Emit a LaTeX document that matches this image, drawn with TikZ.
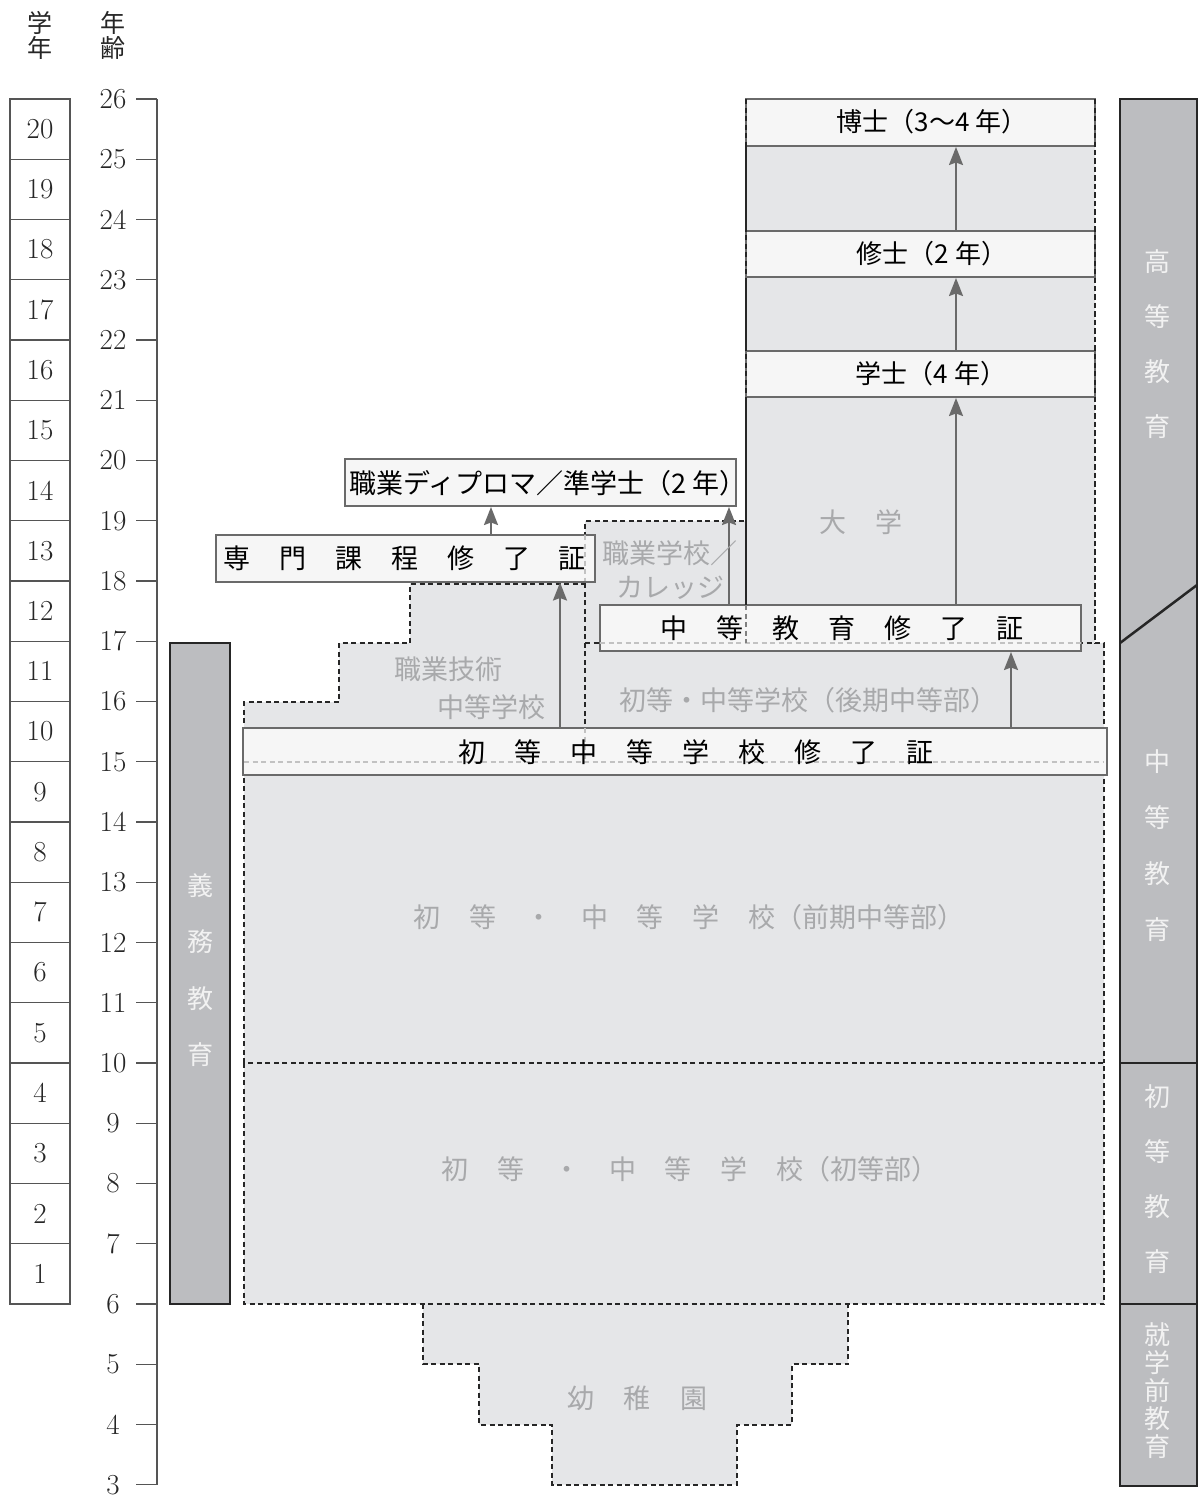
\documentclass[tikz,border=0pt]{standalone}
\usepackage{fontspec}
\newfontfamily\jp{Noto Sans CJK JP}
\usetikzlibrary{arrows.meta}
\definecolor{regionfill}{HTML}{E5E6E8}
\definecolor{boxfill}{HTML}{F6F6F6}
\definecolor{boxline}{HTML}{6A6A6A}
\definecolor{barfill}{HTML}{BCBDC0}
\definecolor{labelgray}{HTML}{A8A9AB}
\definecolor{arrowgray}{HTML}{6A6A6A}
\definecolor{innerdash}{HTML}{C2C2C2}
\definecolor{axisgray}{HTML}{555555}
\newcommand\gp{\hspace{28.9pt}}
\begin{document}
\begin{tikzpicture}[x=1pt,y=-1pt,
  regdash/.style={draw=black!85, line width=2pt, dash pattern=on 5pt off 3.5pt},
  innerd/.style={draw=innerdash, line width=1.6pt, dash pattern=on 5pt off 3.5pt},
  cbox/.style={draw=boxline, fill=boxfill, line width=2pt, inner sep=0pt},
  certtext/.style={inner sep=0pt, font=\jp\fontsize{27}{30}\selectfont, text=black},
  degtext/.style={inner sep=0pt, font=\jp\fontsize{26}{30}\selectfont, text=black},
  regionlabel/.style={inner sep=0pt, font=\jp\fontsize{27}{34}\selectfont, text=labelgray, align=center},
  arr/.style={draw=arrowgray, line width=2pt, -{Stealth[length=18pt,width=14pt,inset=2.5pt]}},
  axisline/.style={draw=axisgray, line width=1.3pt},
  agenum/.style={inner sep=0pt, font=\fontsize{29}{30}\selectfont, text=black!85},
  gradebox/.style={draw=axisgray, line width=1.3pt, minimum width=60pt, minimum height=60.25pt, inner sep=0pt, font=\fontsize{29}{30}\selectfont, text=black!85},
  barlabel/.style={inner sep=0pt, text=white!95!black, align=center},
  header/.style={inner sep=0pt, font=\jp\fontsize{25}{25}\selectfont, align=center, text=black!85}
]
\useasboundingbox (0,0) rectangle (1199,1499);

% headers
\node[header] (hgrade) at (40,35) {学\\年};
\node[header] (hage) at (113,35) {年\\齢};

% grade boxes
\foreach \g in {1,...,20}{
  \pgfmathsetmacro\yc{99+(26-(\g+5.5))*60.25}
  \node[gradebox] (grade\g) at (40,\yc) {\g};
}

% age axis
\draw[axisline] (157,99) -- (157,1484.75);
\foreach \a in {3,...,26}{
  \pgfmathsetmacro\yy{99+(26-\a)*60.25}
  \draw[axisline] (136,\yy) -- (157,\yy);
  \node[agenum] (age\a) at (113,\yy) {\a};
}

% compulsory education bar
\fill[barfill] (170,643) rectangle (230,1304);
\draw[line width=2.5pt, black!85] (170,643) rectangle (230,1304);
\node[barlabel, font=\jp\fontsize{26}{56.3}\selectfont] (gimu) at (200,970) {義\\務\\教\\育};

% right column
\fill[barfill] (1120,99) rectangle (1197,1486);
\draw[line width=2.5pt, black!85] (1120,99) rectangle (1197,1486);
\draw[line width=2.5pt, black!85] (1120,643) -- (1197,585);
\draw[line width=2.5pt, black!85] (1120,1063) -- (1197,1063);
\draw[line width=2.5pt, black!85] (1120,1304) -- (1197,1304);
\node[barlabel, font=\jp\fontsize{26}{55}\selectfont] (koto) at (1157,344.5) {高\\等\\教\\育};
\node[barlabel, font=\jp\fontsize{26}{56}\selectfont] (chuto) at (1157,846) {中\\等\\教\\育};
\node[barlabel, font=\jp\fontsize{26}{55}\selectfont] (shoto) at (1157,1179.5) {初\\等\\教\\育};
\node[barlabel, font=\jp\fontsize{26}{28}\selectfont] (shugaku) at (1157,1391) {就\\学\\前\\教\\育};

% region fills
\fill[regionfill] (244,702) -- (339,702) -- (339,643) -- (410,643) -- (410,581) -- (585,581) -- (585,521) -- (746,521) -- (746,99) -- (1095,99) -- (1095,643) -- (1104,643) -- (1104,1304) -- (244,1304) -- cycle;
\fill[regionfill] (423,1304) -- (423,1364) -- (479,1364) -- (479,1424.5) -- (552,1424.5) -- (552,1484.5) -- (737,1484.5) -- (737,1424.5) -- (792,1424.5) -- (792,1364) -- (848,1364) -- (848,1304) -- cycle;

% region outlines
\draw[regdash] (423,1304) -- (423,1364) -- (479,1364) -- (479,1424.5) -- (552,1424.5) -- (552,1484.5) -- (737,1484.5) -- (737,1424.5) -- (792,1424.5) -- (792,1364) -- (848,1364) -- (848,1304);
\draw[regdash] (244,1063) rectangle (1104,1304);
\draw[regdash] (244,1063) -- (244,702) -- (339,702) -- (339,643) -- (410,643) -- (410,584) -- (585,584);
\draw[regdash] (585,775) -- (585,521) -- (746,521);
\draw[regdash] (585,643) -- (1104,643) -- (1104,1063);
\draw[regdash] (746,643) -- (746,99) -- (1095,99) -- (1095,643);

% certificate / degree boxes
\node[cbox, minimum width=349pt, minimum height=47pt] (hakase) at (920.5,122.5) {};
\node[cbox, minimum width=349pt, minimum height=46pt] (shushi) at (920.5,254) {};
\node[cbox, minimum width=349pt, minimum height=46pt] (gakushi) at (920.5,374) {};
\node[cbox, minimum width=391pt, minimum height=47pt] (diploma) at (540.5,482.5) {};
\node[cbox, minimum width=379pt, minimum height=47pt] (senmon) at (405.5,558) {};
\node[cbox, minimum width=481pt, minimum height=46pt] (cert2) at (840.5,628) {};
\node[cbox, minimum width=864pt, minimum height=47pt] (cert1) at (675,751.5) {};

% dashed lines showing through boxes
\draw[innerd] (585,535) -- (585,581);
\draw[innerd] (585,728) -- (585,762);
\draw[innerd] (244,762) -- (1104,762);
\draw[innerd] (600,643) -- (1081,643);
\draw[regdash, draw=black!50] (746,605) -- (746,643);
\draw[regdash] (746,99) -- (746,605);
\draw[regdash] (1095,99) -- (1095,643);

% arrows
\coordinate (xa) at (560,0);
\coordinate (xb) at (491,0);
\coordinate (xc) at (1011,0);
\coordinate (xd) at (729,0);
\coordinate (xe) at (956,0);
\draw[arr] (cert1.north -| xa) -- (senmon.south -| xa);
\draw[arr] (senmon.north -| xb) -- (diploma.south -| xb);
\draw[arr] (cert1.north -| xc) -- (cert2.south -| xc);
\draw[arr] (cert2.north -| xd) -- (diploma.south -| xd);
\draw[arr] (cert2.north -| xe) -- (gakushi.south -| xe);
\draw[arr] (gakushi.north -| xe) -- (shushi.south -| xe);
\draw[arr] (shushi.north -| xe) -- (hakase.south -| xe);

% box texts
\node[degtext] (thakase) at (932,122) {博士（3〜4 年）};
\node[degtext] (tshushi) at (932,254) {修士（2 年）};
\node[degtext] (tgakushi) at (931,374) {学士（4 年）};
\node[certtext] (tdiploma) at (548,483) {職業ディプロマ／準学士（2 年）};
\node[certtext] (tsenmon) at (404.8,558) {専\gp 門\gp 課\gp 程\gp 修\gp 了\gp 証};
\node[certtext] (tcert2) at (842,628) {中\gp 等\gp 教\gp 育\gp 修\gp 了\gp 証};
\node[certtext] (tcert1) at (696,752) {初\gp 等\gp 中\gp 等\gp 学\gp 校\gp 修\gp 了\gp 証};

% region labels
\node[regionlabel] (ldaigaku) at (861,522) {大\gp 学};
\node[regionlabel] (lvoc) at (670,570) {職業学校／\\カレッジ};
\node[regionlabel] (lvt1) at (448,669) {職業技術};
\node[regionlabel] (lvt2) at (491,707) {中等学校};
\node[regionlabel] (lupper) at (808,700) {初等・中等学校（後期中等部）};
\node[regionlabel] (llower) at (689,917) {初\gp 等\gp ・\gp 中\gp 等\gp 学\gp 校（前期中等部）};
\node[regionlabel] (lprimary) at (690,1169) {初\gp 等\gp ・\gp 中\gp 等\gp 学\gp 校（初等部）};
\node[regionlabel] (lkinder) at (637,1398) {幼\hspace{29.5pt}稚\hspace{29.5pt}園};
\end{tikzpicture}
\end{document}
